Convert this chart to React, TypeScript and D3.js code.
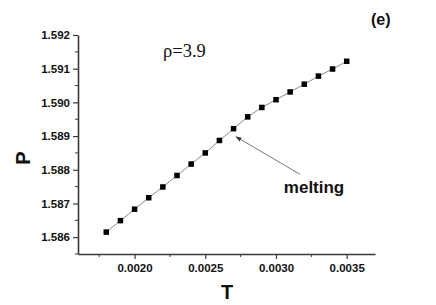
import { useEffect, useRef } from 'react';
import * as d3 from 'd3';

// temperature values (x) and pressure values (y)
const temps = [
  0.0018, 0.0019, 0.0020, 0.0021, 0.0022, 0.0023, 0.0024, 0.0025, 0.0026,
  0.0027, 0.0028, 0.0029, 0.0030, 0.0031, 0.0032, 0.0033, 0.0034, 0.0035,
];
const pressures = [
  1.58615, 1.58649, 1.58683, 1.58717, 1.58749, 1.58783, 1.58817, 1.58850, 1.58887,
  1.58922, 1.58957, 1.58985, 1.59008, 1.59031, 1.59054, 1.59078, 1.59099, 1.59122,
];
const xMajorTicks = [0.0020, 0.0025, 0.0030, 0.0035];
const xMinorTicks = [0.00175, 0.00225, 0.00275, 0.00325];
const yMajorTicks = [1.586, 1.587, 1.588, 1.589, 1.590, 1.591, 1.592];
const yMinorTicks = [1.5855, 1.5865, 1.5875, 1.5885, 1.5895, 1.5905, 1.5915];

const SANS = '"Liberation Sans", Arial, sans-serif';
const SERIF = '"Liberation Serif", "Times New Roman", serif';

export default function App() {
  const svgRef = useRef<SVGSVGElement>(null);

  useEffect(() => {
    if (!svgRef.current) return;
    const width = 436;
    const height = 305;
    const margin = { top: 35, right: 61, bottom: 51, left: 78 };

    const root = d3.select(svgRef.current);
    root.selectAll('*').remove();
    root.attr('width', width).attr('height', height);

    const x = d3.scaleLinear().domain([0.0016, 0.0037]).range([margin.left, width - margin.right]);
    const y = d3.scaleLinear().domain([1.5855, 1.592]).range([height - margin.bottom, margin.top]);

    const axisColor = '#3a3a3a';

    // x axis
    const gx = root.append('g').attr('transform', `translate(0,${height - margin.bottom})`);
    gx.call(
      d3.axisBottom(x)
        .tickValues(xMajorTicks)
        .tickFormat(d => (d as number).toFixed(4))
        .tickSizeInner(5)
        .tickSizeOuter(0)
        .tickPadding(5)
    );
    gx.select('.domain').attr('stroke', axisColor).attr('stroke-width', 1.6);
    gx.selectAll('.tick line').attr('stroke', axisColor).attr('stroke-width', 1.2);
    gx.selectAll('.tick text')
      .attr('fill', '#111')
      .style('font-family', SANS)
      .style('font-size', '11.5px')
      .style('font-weight', 'bold');
    gx.selectAll('.minor')
      .data(xMinorTicks)
      .enter()
      .append('line')
      .attr('x1', d => x(d))
      .attr('x2', d => x(d))
      .attr('y1', 0)
      .attr('y2', 3)
      .attr('stroke', axisColor)
      .attr('stroke-width', 1);

    // y axis
    const gy = root.append('g').attr('transform', `translate(${margin.left},0)`);
    gy.call(
      d3.axisLeft(y)
        .tickValues(yMajorTicks)
        .tickFormat(d => (d as number).toFixed(3))
        .tickSizeInner(5)
        .tickSizeOuter(0)
        .tickPadding(3)
    );
    gy.select('.domain').attr('stroke', axisColor).attr('stroke-width', 1.6);
    gy.selectAll('.tick line').attr('stroke', axisColor).attr('stroke-width', 1.2);
    gy.selectAll('.tick text')
      .attr('fill', '#111')
      .style('font-family', SANS)
      .style('font-size', '11.5px')
      .style('font-weight', 'bold');
    gy.selectAll('.minor')
      .data(yMinorTicks)
      .enter()
      .append('line')
      .attr('x1', 0)
      .attr('x2', -3)
      .attr('y1', d => y(d))
      .attr('y2', d => y(d))
      .attr('stroke', axisColor)
      .attr('stroke-width', 1);

    // connecting line
    const pts = temps.map((t, i) => [t, pressures[i]] as [number, number]);
    const line = d3.line<[number, number]>().x(d => x(d[0])).y(d => y(d[1]));
    root.append('path')
      .datum(pts)
      .attr('d', line)
      .attr('fill', 'none')
      .attr('stroke', '#8a8a8a')
      .attr('stroke-width', 1);

    // square markers
    const s = 5.5;
    root.selectAll('.pt')
      .data(pts)
      .enter()
      .append('rect')
      .attr('x', d => x(d[0]) - s / 2)
      .attr('y', d => y(d[1]) - s / 2)
      .attr('width', s)
      .attr('height', s)
      .attr('fill', '#000');

    // arrow annotation
    const defs = root.append('defs');
    defs.append('marker')
      .attr('id', 'arrowhead')
      .attr('viewBox', '0 0 10 10')
      .attr('refX', 9)
      .attr('refY', 5)
      .attr('markerWidth', 7)
      .attr('markerHeight', 7)
      .attr('orient', 'auto')
      .append('path')
      .attr('d', 'M0,1.5 L10,5 L0,8.5 Z')
      .attr('fill', '#333');
    root.append('line')
      .attr('x1', x(0.00317))
      .attr('y1', y(1.587865))
      .attr('x2', x(0.002717))
      .attr('y2', y(1.588981))
      .attr('stroke', '#666')
      .attr('stroke-width', 0.9)
      .attr('marker-end', 'url(#arrowhead)');

    root.append('text')
      .attr('x', x(0.003269))
      .attr('y', y(1.58732))
      .attr('text-anchor', 'middle')
      .style('font-family', SANS)
      .style('font-size', '17px')
      .style('font-weight', 'bold')
      .attr('fill', '#111')
      .text('melting');

    root.append('text')
      .attr('x', 163)
      .attr('y', 57)
      .style('font-family', SERIF)
      .style('font-size', '18.5px')
      .attr('fill', '#111')
      .text('ρ=3.9');

    root.append('text')
      .attr('x', 371)
      .attr('y', 25)
      .style('font-family', SANS)
      .style('font-size', '16px')
      .style('font-weight', 'bold')
      .attr('fill', '#111')
      .text('(e)');

    // axis titles
    root.append('text')
      .attr('x', 227)
      .attr('y', 299)
      .attr('text-anchor', 'middle')
      .style('font-family', SANS)
      .style('font-size', '20px')
      .style('font-weight', 'bold')
      .attr('fill', '#111')
      .text('T');

    root.append('text')
      .attr('transform', 'translate(30,158) rotate(-90)')
      .attr('text-anchor', 'middle')
      .style('font-family', SANS)
      .style('font-size', '20px')
      .style('font-weight', 'bold')
      .attr('fill', '#111')
      .text('P');
  }, []);

  return (
    <svg
      ref={svgRef}
      style={{ position: 'absolute', left: 0, top: 0, background: '#fff', display: 'block' }}
    />
  );
}
